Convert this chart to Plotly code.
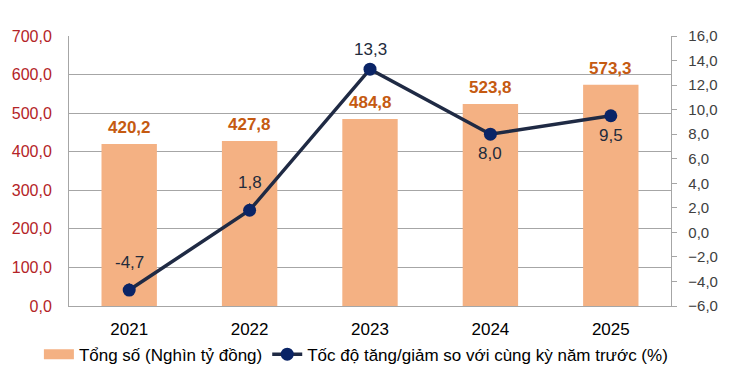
import plotly.graph_objects as go

years = ["2021", "2022", "2023", "2024", "2025"]
totals = [420.2, 427.8, 484.8, 523.8, 573.3]
growth = [-4.7, 1.8, 13.3, 8.0, 9.5]
growth_label_offset = [-28, -28, -20, 19, 20]  # px: negative = above

bar_name = "Tổng số (Nghìn tỷ đồng)"
line_name = "Tốc độ tăng/giảm so với cùng kỳ năm trước (%)"

FONT = "Liberation Sans, Arial"
BAR_COLOR = "#F4B183"
xpos = list(range(len(years)))

fig = go.Figure()
fig.add_trace(go.Bar(
    x=xpos, y=totals, name=bar_name,
    marker=dict(color=BAR_COLOR, line=dict(width=0)),
    width=0.46, showlegend=False, legendgroup="bar",
))
# legend key drawn as a wide block, like the reference
fig.add_trace(go.Scatter(
    x=[None], y=[None], mode="lines", name=bar_name, legendgroup="bar",
    line=dict(color=BAR_COLOR, width=10), hoverinfo="skip",
))
fig.add_trace(go.Scatter(
    x=xpos, y=growth, name=line_name, mode="lines+markers",
    line=dict(color="#1F2A44", width=3.5),
    marker=dict(color="#0A2466", size=13, line=dict(width=0)),
    yaxis="y2", cliponaxis=False,
))

annotations = []
for x, v in zip(xpos, totals):
    annotations.append(dict(
        x=x, y=v, xref="x", yref="y", text="<b>" + f"{v:.1f}".replace(".", ",") + "</b>",
        showarrow=False, yanchor="bottom", yshift=5,
        font=dict(family=FONT, size=17, color="#C55A11"),
    ))
for x, v, off in zip(xpos, growth, growth_label_offset):
    annotations.append(dict(
        x=x, y=v, xref="x", yref="y2", text=f"{v:.1f}".replace(".", ","),
        showarrow=True, arrowhead=0, arrowwidth=1, arrowcolor="#1F2A44",
        ax=0, ay=off, standoff=6, startstandoff=10,
        font=dict(family=FONT, size=17, color="#222B3C"),
    ))

fig.update_layout(
    width=730, height=389,
    margin=dict(l=65, r=58, t=36, b=83),
    paper_bgcolor="white", plot_bgcolor="white",
    separators=",.",
    showlegend=True,
    legend=dict(orientation="h", x=-0.05, xanchor="left",
                y=-0.18, yanchor="middle",
                font=dict(family=FONT, size=17, color="#000000"),
                traceorder="normal"),
    xaxis=dict(range=[-0.5, 4.5], tickvals=xpos, ticktext=years,
               showgrid=False, showline=True, linecolor="#A6A6A6", linewidth=1,
               ticks="outside", ticklen=8, tickcolor="white",
               tickfont=dict(family=FONT, size=17, color="#000000")),
    yaxis=dict(range=[0, 700], dtick=100, tickformat=".1f",
               showgrid=True, gridcolor="#A6A6A6", gridwidth=1,
               showline=True, linecolor="#A6A6A6", linewidth=1, zeroline=False,
               ticks="outside", ticklen=13, tickcolor="white",
               tickfont=dict(family=FONT, size=16, color="#B42327")),
    yaxis2=dict(range=[-6, 16], dtick=2, tickformat=".1f", overlaying="y", side="right",
                showgrid=False, zeroline=False,
                showline=True, linecolor="#A6A6A6", linewidth=1,
                ticks="outside", ticklen=5, tickcolor="#A6A6A6",
                tickprefix="\u00a0\u00a0",
                tickfont=dict(family=FONT, size=15, color="#404040")),
    annotations=annotations,
)

fig.write_html("out.html", config={"displayModeBar": False},
               post_script="document.body.style.margin='0';")
